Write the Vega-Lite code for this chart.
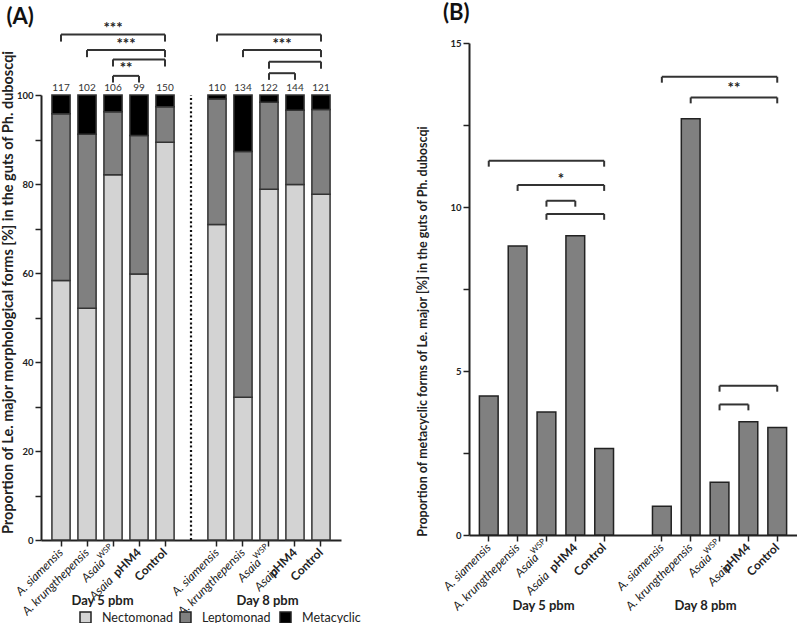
{
  "$schema": "https://vega.github.io/schema/vega-lite/v6.json",
  "padding": {"left": 0, "top": 2, "right": 0, "bottom": 0},
  "spacing": 75,
  "config": {
    "font": "Lato",
    "view": {"stroke": null},
    "axis": {"domainColor": "#222", "domainWidth": 2, "tickColor": "#222", "tickWidth": 1.5, "tickSize": 6, "labelColor": "#222", "titleColor": "#222", "grid": false},
    "title": {"color": "#111", "fontSize": 22, "fontWeight": "bold", "anchor": "start", "frame": "bounds"}
  },
  "datasets": {
    "formsA": [
      {"key": "5|A. siamensis", "form": "Nectomonad", "pct": 58.3},
      {"key": "5|A. siamensis", "form": "Leptomonad", "pct": 37.46},
      {"key": "5|A. siamensis", "form": "Metacyclic", "pct": 4.24},
      {"key": "5|A. krungthepensis", "form": "Nectomonad", "pct": 52.1},
      {"key": "5|A. krungthepensis", "form": "Leptomonad", "pct": 39.09},
      {"key": "5|A. krungthepensis", "form": "Metacyclic", "pct": 8.81},
      {"key": "5|Asaia WSP", "form": "Nectomonad", "pct": 82.1},
      {"key": "5|Asaia WSP", "form": "Leptomonad", "pct": 14.15},
      {"key": "5|Asaia WSP", "form": "Metacyclic", "pct": 3.75},
      {"key": "5|Asaia pHM4", "form": "Nectomonad", "pct": 59.8},
      {"key": "5|Asaia pHM4", "form": "Leptomonad", "pct": 31.08},
      {"key": "5|Asaia pHM4", "form": "Metacyclic", "pct": 9.12},
      {"key": "5|Control", "form": "Nectomonad", "pct": 89.4},
      {"key": "5|Control", "form": "Leptomonad", "pct": 7.96},
      {"key": "5|Control", "form": "Metacyclic", "pct": 2.64},
      {"key": "8|A. siamensis", "form": "Nectomonad", "pct": 70.9},
      {"key": "8|A. siamensis", "form": "Leptomonad", "pct": 28.22},
      {"key": "8|A. siamensis", "form": "Metacyclic", "pct": 0.88},
      {"key": "8|A. krungthepensis", "form": "Nectomonad", "pct": 32.1},
      {"key": "8|A. krungthepensis", "form": "Leptomonad", "pct": 55.21},
      {"key": "8|A. krungthepensis", "form": "Metacyclic", "pct": 12.69},
      {"key": "8|Asaia WSP", "form": "Nectomonad", "pct": 78.8},
      {"key": "8|Asaia WSP", "form": "Leptomonad", "pct": 19.59},
      {"key": "8|Asaia WSP", "form": "Metacyclic", "pct": 1.61},
      {"key": "8|AsaiapHM4", "form": "Nectomonad", "pct": 79.9},
      {"key": "8|AsaiapHM4", "form": "Leptomonad", "pct": 16.65},
      {"key": "8|AsaiapHM4", "form": "Metacyclic", "pct": 3.45},
      {"key": "8|Control", "form": "Nectomonad", "pct": 77.7},
      {"key": "8|Control", "form": "Leptomonad", "pct": 19.02},
      {"key": "8|Control", "form": "Metacyclic", "pct": 3.28}
    ],
    "nA": [
      {"key": "5|A. siamensis", "n": 117},
      {"key": "5|A. krungthepensis", "n": 102},
      {"key": "5|Asaia WSP", "n": 106},
      {"key": "5|Asaia pHM4", "n": 99},
      {"key": "5|Control", "n": 150},
      {"key": "8|A. siamensis", "n": 110},
      {"key": "8|A. krungthepensis", "n": 134},
      {"key": "8|Asaia WSP", "n": 122},
      {"key": "8|AsaiapHM4", "n": 144},
      {"key": "8|Control", "n": 121}
    ],
    "sepA": [{"key": "gap", "y": 0, "y2": 100}],
    "bracketsA": [
      {"from": "5|A. siamensis", "to": "5|Control", "y": 113.6, "yLow": 112.0},
      {"from": "5|A. krungthepensis", "to": "5|Control", "y": 110.1, "yLow": 108.5},
      {"from": "5|Asaia WSP", "to": "5|Control", "y": 108.0, "yLow": 106.4},
      {"from": "5|Asaia WSP", "to": "5|Asaia pHM4", "y": 104.3, "yLow": 102.8},
      {"from": "8|A. siamensis", "to": "8|Control", "y": 113.6, "yLow": 112.0},
      {"from": "8|A. krungthepensis", "to": "8|Control", "y": 110.1, "yLow": 108.5},
      {"from": "8|Asaia WSP", "to": "8|Control", "y": 107.5, "yLow": 105.9},
      {"from": "8|Asaia WSP", "to": "8|AsaiapHM4", "y": 104.9, "yLow": 103.4}
    ],
    "starsA": [
      {"key": "5|Asaia WSP", "y": 115.0, "stars": "***", "pos": "center"},
      {"key": "5|Asaia WSP", "y": 111.5, "stars": "***", "pos": "between"},
      {"key": "5|Asaia WSP", "y": 106.0, "stars": "**", "pos": "between"},
      {"key": "8|Asaia WSP", "y": 111.5, "stars": "***", "pos": "between"}
    ],
    "metaB": [
      {"key": "5|A. siamensis", "pct": 4.24},
      {"key": "5|A. krungthepensis", "pct": 8.81},
      {"key": "5|Asaia WSP", "pct": 3.75},
      {"key": "5|Asaia pHM4", "pct": 9.12},
      {"key": "5|Control", "pct": 2.64},
      {"key": "8|A. siamensis", "pct": 0.88},
      {"key": "8|A. krungthepensis", "pct": 12.69},
      {"key": "8|Asaia WSP", "pct": 1.61},
      {"key": "8|AsaiapHM4", "pct": 3.45},
      {"key": "8|Control", "pct": 3.28}
    ],
    "bracketsB": [
      {"from": "5|A. siamensis", "to": "5|Control", "y": 11.41, "yLow": 11.23},
      {"from": "5|A. krungthepensis", "to": "5|Control", "y": 10.67, "yLow": 10.49},
      {"from": "5|Asaia WSP", "to": "5|Asaia pHM4", "y": 10.19, "yLow": 10.01},
      {"from": "5|Asaia WSP", "to": "5|Control", "y": 9.79, "yLow": 9.61},
      {"from": "8|A. siamensis", "to": "8|Control", "y": 13.97, "yLow": 13.79},
      {"from": "8|A. krungthepensis", "to": "8|Control", "y": 13.34, "yLow": 13.16},
      {"from": "8|Asaia WSP", "to": "8|Control", "y": 4.55, "yLow": 4.37},
      {"from": "8|Asaia WSP", "to": "8|AsaiapHM4", "y": 3.98, "yLow": 3.8}
    ],
    "starsB": [
      {"key": "5|Asaia WSP", "y": 10.86, "stars": "*"},
      {"key": "8|Asaia WSP", "y": 13.63, "stars": "**"}
    ]
  },
  "hconcat": [
    {
      "title": {"text": "(A)", "offset": -8, "dx": 6},
      "width": 300,
      "height": 497,
      "resolve": {"axis": {"x": "independent"}},
      "layer": [
        {
          "data": {"name": "formsA"},
          "transform": [{"calculate": "indexof(['Nectomonad', 'Leptomonad', 'Metacyclic'], datum.form)", "as": "stackOrder"}],
          "mark": {"type": "bar", "stroke": "#333", "strokeWidth": 1.5},
          "encoding": {
            "x": {
              "field": "key", "type": "nominal",
              "scale": {"domain": ["5|A. siamensis", "5|A. krungthepensis", "5|Asaia WSP", "5|Asaia pHM4", "5|Control", "gap", "8|A. siamensis", "8|A. krungthepensis", "8|Asaia WSP", "8|AsaiapHM4", "8|Control"], "paddingInner": 0.3, "paddingOuter": 0.42},
              "axis": {
                "orient": "bottom",
                "values": ["5|A. siamensis", "5|A. krungthepensis", "5|Asaia WSP", "5|Asaia pHM4", "5|Control", "8|A. siamensis", "8|A. krungthepensis", "8|Asaia WSP", "8|AsaiapHM4", "8|Control"],
                "labelAngle": -45, "labelAlign": "right", "labelBaseline": "middle", "labelOverlap": false, "labelFontSize": 12,
                "labelExpr": "datum.value == 'gap' ? '' : (indexof(datum.value, 'Asaia') >= 0 ? 'Asaia' : split(datum.value, '|')[1])",
                "labelFontStyle": {"condition": {"test": "indexof(datum.value, 'Control') >= 0", "value": "normal"}, "value": "italic"},
                "labelFontWeight": {"condition": {"test": "indexof(datum.value, 'Control') >= 0", "value": "bold"}, "value": "normal"},
                "labelOffset": {"condition": [
                  {"test": "datum.value == '5|Asaia pHM4'", "value": -28},
                  {"test": "datum.value == '8|AsaiapHM4'", "value": -19},
                  {"test": "indexof(datum.value, 'WSP') >= 0", "value": -10}
                ], "value": 0},
                "labelPadding": {"condition": [
                  {"test": "datum.value == '5|Asaia pHM4'", "value": 32},
                  {"test": "datum.value == '8|AsaiapHM4'", "value": 23},
                  {"test": "indexof(datum.value, 'WSP') >= 0", "value": 14}
                ], "value": 4},
                "title": "Day 5 pbm", "titleX": 61, "titleY": 60, "titleFontSize": 13, "titleFontWeight": "bold", "titleBaseline": "middle", "titleAlign": "center"
              }
            },
            "y": {
              "field": "pct", "type": "quantitative", "stack": "zero",
              "scale": {"domain": [0, 100], "nice": false, "range": [497, 52]},
              "axis": {
                "values": [0, 10, 20, 30, 40, 50, 60, 70, 80, 90, 100],
                "labelExpr": "datum.value % 20 == 0 ? datum.label : ''",
                "labelFontSize": 9.5, "labelFontWeight": "bold", "labelPadding": 2,
                "title": "Proportion of Le. major morphological forms [%] in the guts of Ph. duboscqi",
                "titleFontSize": 14.5, "titleFontWeight": "bold", "titlePadding": 1, "titleY": 249
              }
            },
            "order": {"field": "stackOrder", "type": "quantitative"},
            "color": {
              "field": "form", "type": "nominal",
              "scale": {"domain": ["Nectomonad", "Leptomonad", "Metacyclic"], "range": ["#d3d3d3", "#808080", "#000000"]},
              "legend": {"orient": "none", "legendX": 38, "legendY": 568, "direction": "horizontal", "columns": 3, "gridAlign": "all", "title": null, "symbolType": "square", "symbolSize": 121, "symbolStrokeColor": "#222", "symbolStrokeWidth": 1.5, "labelFontSize": 12.5, "labelOffset": 10, "columnPadding": 3, "padding": 0, "labelColor": "#222"}
            }
          }
        },
        {
          "data": {"name": "nA"},
          "mark": {"type": "text", "baseline": "bottom", "dy": -2, "fontSize": 10, "color": "#333"},
          "encoding": {
            "x": {
              "field": "key", "type": "nominal",
              "axis": {
                "orient": "bottom",
                "values": ["5|A. siamensis", "5|A. krungthepensis", "5|Asaia WSP", "5|Asaia pHM4", "5|Control", "8|A. siamensis", "8|A. krungthepensis", "8|Asaia WSP", "8|AsaiapHM4", "8|Control"],
                "domain": false, "tickOpacity": 0,
                "labelAngle": -45, "labelAlign": "right", "labelBaseline": "middle", "labelOverlap": false,
                "labelExpr": "indexof(datum.value, 'WSP') >= 0 ? 'WSP' : (indexof(datum.value, 'pHM4') >= 0 ? 'pHM4' : '')",
                "labelFontSize": {"condition": {"test": "indexof(datum.value, 'WSP') >= 0", "value": 8}, "value": 12},
                "labelFontWeight": {"condition": {"test": "indexof(datum.value, 'pHM4') >= 0", "value": "bold"}, "value": "normal"},
                "labelOffset": {"condition": {"test": "indexof(datum.value, 'WSP') >= 0", "value": -2}, "value": 0},
                "labelPadding": {"condition": {"test": "indexof(datum.value, 'WSP') >= 0", "value": -1}, "value": 4},
                "title": "Day 8 pbm", "titleX": 226, "titleY": 60, "titleFontSize": 13, "titleFontWeight": "bold", "titleBaseline": "middle", "titleAlign": "center"
              }
            },
            "y": {"datum": 100, "type": "quantitative"},
            "text": {"field": "n", "type": "quantitative"}
          }
        },
        {
          "data": {"name": "sepA"},
          "mark": {"type": "rule", "strokeDash": [2, 2.4], "strokeWidth": 2.2, "color": "#111"},
          "encoding": {
            "x": {"field": "key", "type": "nominal", "axis": null},
            "y": {"field": "y", "type": "quantitative"},
            "y2": {"field": "y2"}
          }
        },
        {
          "data": {"name": "bracketsA"},
          "mark": {"type": "rule", "strokeWidth": 2, "color": "#333"},
          "encoding": {
            "x": {"field": "from", "type": "nominal", "axis": null},
            "x2": {"field": "to"},
            "y": {"field": "y", "type": "quantitative"}
          }
        },
        {
          "data": {"name": "bracketsA"},
          "mark": {"type": "rule", "strokeWidth": 2, "color": "#333"},
          "encoding": {
            "x": {"field": "from", "type": "nominal", "axis": null},
            "y": {"field": "y", "type": "quantitative"},
            "y2": {"field": "yLow"}
          }
        },
        {
          "data": {"name": "bracketsA"},
          "mark": {"type": "rule", "strokeWidth": 2, "color": "#333"},
          "encoding": {
            "x": {"field": "to", "type": "nominal", "axis": null},
            "y": {"field": "y", "type": "quantitative"},
            "y2": {"field": "yLow"}
          }
        },
        {
          "data": {"name": "starsA"},
          "transform": [{"filter": "datum.pos == 'center'"}],
          "mark": {"type": "text", "fontSize": 15, "fontWeight": "bold", "baseline": "middle", "color": "#222"},
          "encoding": {
            "x": {"field": "key", "type": "nominal", "axis": null},
            "y": {"field": "y", "type": "quantitative"},
            "text": {"field": "stars", "type": "nominal"}
          }
        },
        {
          "data": {"name": "starsA"},
          "transform": [{"filter": "datum.pos == 'between'"}],
          "mark": {"type": "text", "fontSize": 15, "fontWeight": "bold", "baseline": "middle", "color": "#222", "dx": 13},
          "encoding": {
            "x": {"field": "key", "type": "nominal", "axis": null},
            "y": {"field": "y", "type": "quantitative"},
            "text": {"field": "stars", "type": "nominal"}
          }
        }
      ]
    },
    {
      "title": {"text": "(B)", "offset": 13, "dx": 26},
      "width": 328,
      "height": 492,
      "resolve": {"axis": {"x": "independent"}},
      "layer": [
        {
          "data": {"name": "metaB"},
          "mark": {"type": "bar", "color": "#808080", "stroke": "#222", "strokeWidth": 1.5},
          "encoding": {
            "x": {
              "field": "key", "type": "nominal",
              "scale": {"domain": ["5|A. siamensis", "5|A. krungthepensis", "5|Asaia WSP", "5|Asaia pHM4", "5|Control", "gap", "8|A. siamensis", "8|A. krungthepensis", "8|Asaia WSP", "8|AsaiapHM4", "8|Control"], "paddingInner": 0.35, "paddingOuter": 0.36},
              "axis": {
                "orient": "bottom",
                "values": ["5|A. siamensis", "5|A. krungthepensis", "5|Asaia WSP", "5|Asaia pHM4", "5|Control", "8|A. siamensis", "8|A. krungthepensis", "8|Asaia WSP", "8|AsaiapHM4", "8|Control"],
                "labelAngle": -45, "labelAlign": "right", "labelBaseline": "middle", "labelOverlap": false, "labelFontSize": 12,
                "labelExpr": "datum.value == 'gap' ? '' : (indexof(datum.value, 'Asaia') >= 0 ? 'Asaia' : split(datum.value, '|')[1])",
                "labelFontStyle": {"condition": {"test": "indexof(datum.value, 'Control') >= 0", "value": "normal"}, "value": "italic"},
                "labelFontWeight": {"condition": {"test": "indexof(datum.value, 'Control') >= 0", "value": "bold"}, "value": "normal"},
                "labelOffset": {"condition": [
                  {"test": "datum.value == '5|Asaia pHM4'", "value": -28},
                  {"test": "datum.value == '8|AsaiapHM4'", "value": -19},
                  {"test": "indexof(datum.value, 'WSP') >= 0", "value": -10}
                ], "value": 0},
                "labelPadding": {"condition": [
                  {"test": "datum.value == '5|Asaia pHM4'", "value": 32},
                  {"test": "datum.value == '8|AsaiapHM4'", "value": 23},
                  {"test": "indexof(datum.value, 'WSP') >= 0", "value": 14}
                ], "value": 4},
                "title": "Day 5 pbm", "titleX": 74, "titleY": 70, "titleFontSize": 13, "titleFontWeight": "bold", "titleBaseline": "middle", "titleAlign": "center"
              }
            },
            "y": {
              "field": "pct", "type": "quantitative",
              "scale": {"domain": [0, 15], "nice": false},
              "axis": {
                "values": [0, 2.5, 5, 7.5, 10, 12.5, 15],
                "labelExpr": "datum.value % 5 == 0 ? datum.label : ''",
                "labelFontSize": 9.5, "labelFontWeight": "bold", "labelPadding": 2,
                "title": "Proportion of metacyclic forms of Le. major [%] in the guts of Ph. duboscqi",
                "titleFontSize": 12.5, "titleFontWeight": "bold", "titlePadding": 20, "titleY": 288
              }
            }
          }
        },
        {
          "data": {"name": "metaB"},
          "mark": {"type": "text", "opacity": 0},
          "encoding": {
            "x": {
              "field": "key", "type": "nominal",
              "axis": {
                "orient": "bottom",
                "values": ["5|A. siamensis", "5|A. krungthepensis", "5|Asaia WSP", "5|Asaia pHM4", "5|Control", "8|A. siamensis", "8|A. krungthepensis", "8|Asaia WSP", "8|AsaiapHM4", "8|Control"],
                "domain": false, "tickOpacity": 0,
                "labelAngle": -45, "labelAlign": "right", "labelBaseline": "middle", "labelOverlap": false,
                "labelExpr": "indexof(datum.value, 'WSP') >= 0 ? 'WSP' : (indexof(datum.value, 'pHM4') >= 0 ? 'pHM4' : '')",
                "labelFontSize": {"condition": {"test": "indexof(datum.value, 'WSP') >= 0", "value": 8}, "value": 12},
                "labelFontWeight": {"condition": {"test": "indexof(datum.value, 'pHM4') >= 0", "value": "bold"}, "value": "normal"},
                "labelOffset": {"condition": {"test": "indexof(datum.value, 'WSP') >= 0", "value": -2}, "value": 0},
                "labelPadding": {"condition": {"test": "indexof(datum.value, 'WSP') >= 0", "value": -1}, "value": 4},
                "title": "Day 8 pbm", "titleX": 236, "titleY": 70, "titleFontSize": 13, "titleFontWeight": "bold", "titleBaseline": "middle", "titleAlign": "center"
              }
            },
            "y": {"field": "pct", "type": "quantitative"},
            "text": {"field": "pct", "type": "quantitative"}
          }
        },
        {
          "data": {"name": "bracketsB"},
          "mark": {"type": "rule", "strokeWidth": 2, "color": "#333"},
          "encoding": {
            "x": {"field": "from", "type": "nominal", "axis": null},
            "x2": {"field": "to"},
            "y": {"field": "y", "type": "quantitative"}
          }
        },
        {
          "data": {"name": "bracketsB"},
          "mark": {"type": "rule", "strokeWidth": 2, "color": "#333"},
          "encoding": {
            "x": {"field": "from", "type": "nominal", "axis": null},
            "y": {"field": "y", "type": "quantitative"},
            "y2": {"field": "yLow"}
          }
        },
        {
          "data": {"name": "bracketsB"},
          "mark": {"type": "rule", "strokeWidth": 2, "color": "#333"},
          "encoding": {
            "x": {"field": "to", "type": "nominal", "axis": null},
            "y": {"field": "y", "type": "quantitative"},
            "y2": {"field": "yLow"}
          }
        },
        {
          "data": {"name": "starsB"},
          "mark": {"type": "text", "fontSize": 15, "fontWeight": "bold", "baseline": "middle", "color": "#222", "dx": 14.4},
          "encoding": {
            "x": {"field": "key", "type": "nominal", "axis": null},
            "y": {"field": "y", "type": "quantitative"},
            "text": {"field": "stars", "type": "nominal"}
          }
        }
      ]
    }
  ]
}
